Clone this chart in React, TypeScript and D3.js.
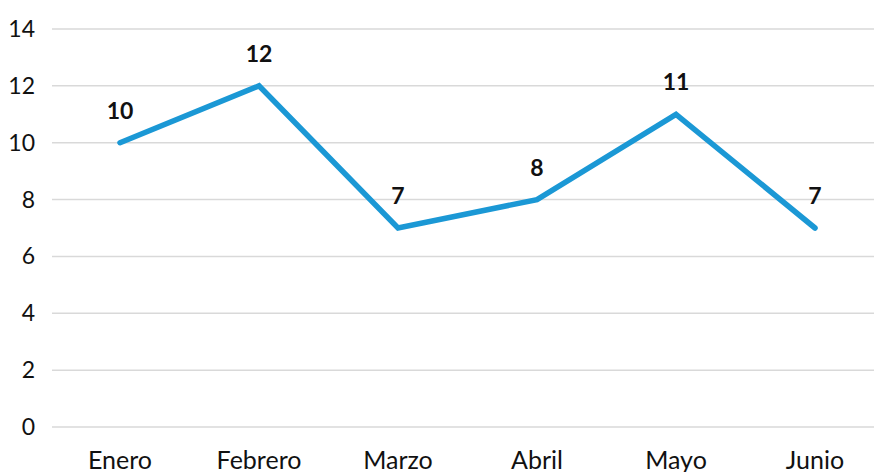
import React from "react";
import * as d3 from "d3";

const categories = ["Enero", "Febrero", "Marzo", "Abril", "Mayo", "Junio"];
const values = [10, 12, 7, 8, 11, 7];
const yTicks = [0, 2, 4, 6, 8, 10, 12, 14];

const W = 874;
const H = 472;
const FONT = "Lato, 'Open Sans', sans-serif";

export default function App() {
  const x = d3.scalePoint<string>().domain(categories).range([120, 815]);
  const y = d3.scaleLinear().domain([0, 14]).range([427, 29]);
  const line = d3
    .line<number>()
    .x((_, i) => x(categories[i]) as number)
    .y((d) => y(d));

  return (
    <svg
      width={W}
      height={H}
      style={{ position: "absolute", left: 0, top: 0, display: "block", background: "#fff" }}
    >
      {yTicks.map((t) => (
        <g key={t}>
          <line x1={52} x2={W} y1={y(t)} y2={y(t)} stroke="#d9d9d9" strokeWidth={1.5} />
          <text
            x={35}
            y={y(t)}
            dy="0.35em"
            textAnchor="end"
            fontFamily={FONT}
            fontSize={23}
            fill="#111"
          >
            {t}
          </text>
        </g>
      ))}
      <path d={line(values) || ""} fill="none" stroke="#1b98d5" strokeWidth={5.5} strokeLinejoin="miter" strokeLinecap="round" />
      {values.map((v, i) => (
        <text
          key={i}
          x={x(categories[i])}
          y={y(v) - 24}
          textAnchor="middle"
          fontFamily={FONT}
          fontWeight="bold"
          fontSize={23}
          fill="#111"
        >
          {v}
        </text>
      ))}
      {categories.map((c) => (
        <text
          key={c}
          x={x(c)}
          y={469}
          textAnchor="middle"
          fontFamily={FONT}
          fontSize={25}
          fill="#111"
        >
          {c}
        </text>
      ))}
    </svg>
  );
}
